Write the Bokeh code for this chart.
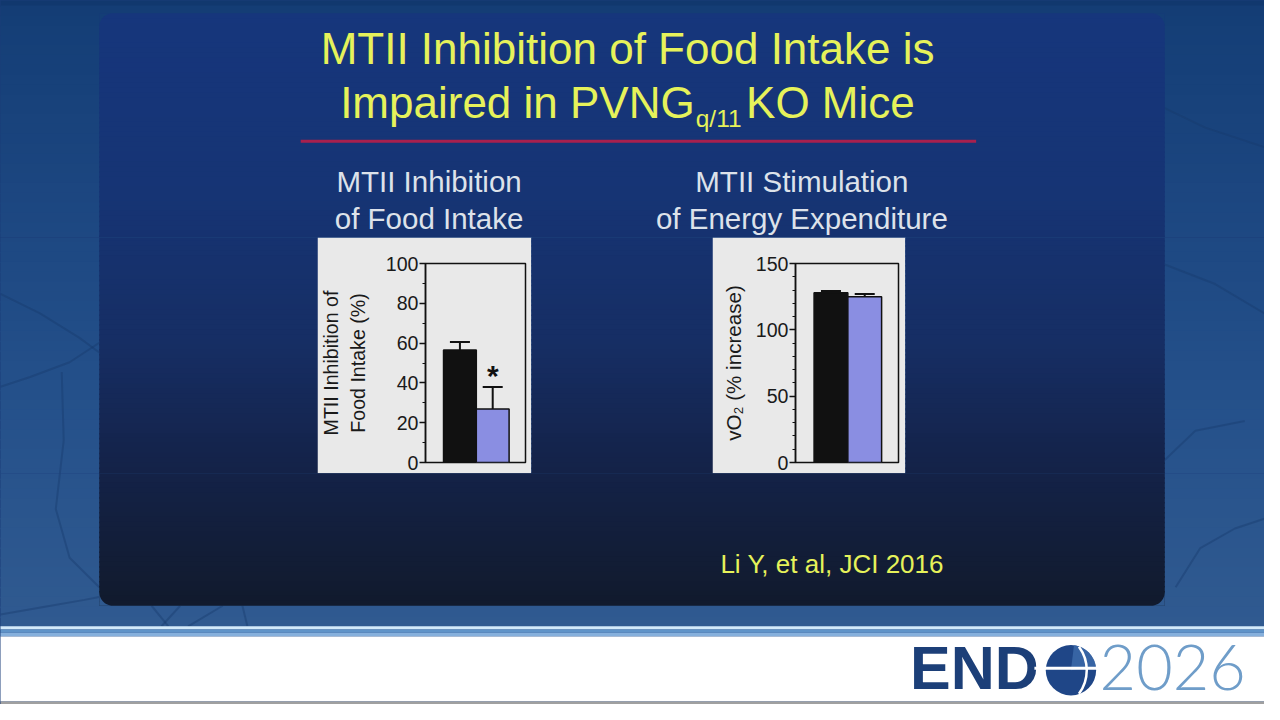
import numpy as np
from bokeh.plotting import figure
from bokeh.layouts import column, row
from bokeh.models import Range1d, ColumnDataSource, Whisker, TeeHead, SingleIntervalTicker
from bokeh.core.properties import value
from bokeh.embed import file_html
from bokeh.resources import INLINE

# ---------------- data ----------------
groups = ["Control", "PVNGq/11KO"]
food_intake_inhibition = [56.5, 26.9]
food_intake_err = [4.0, 11.0]
vo2_increase = [128.0, 125.0]
vo2_err = [1.3, 2.0]
bar_colors = ["#111111", "#8a8ee2"]
significance = ["", "*"]

title_line1 = "MTII Inhibition of Food Intake is"
title_line2_main = "Impaired in PVNG"
title_line2_sub = "q/11"
title_line2_end = "KO Mice"
panel1_title = ["MTII Inhibition", "of Food Intake"]
panel2_title = ["MTII Stimulation", "of Energy Expenditure"]
panel1_ylabel = "MTII Inhibition of\nFood Intake (%)"
panel2_ylabel = "vO\u2082 (% increase)"
citation = "Li Y, et al, JCI 2016"
logo_a = "END"
logo_b = "2026"

# ---------------- styling / layout ----------------
FONT = "Liberation Sans"
YELLOW = "#e6f25a"
SUBTXT = "#dde2ea"
PANEL_GRAY = "#e9e9e9"
SEAM = "#1a3d78"

W, H = 1264, 704                 # page size; the 1280x720 slide is scaled into it
SX, SY = W / 1280.0, H / 720.0
BASE_FIX = 0.4                   # baseline correction (em) for svg text placement

XB = [0, 322, 539, 722, 917, 1280]
YB = [0, 243, 485, 720]
XP = [int(round(v * SX)) for v in XB]
YP = [int(round(v * SY)) for v in YB]

PX0, PX1, PY0, PY1, PR = 100, 1179, 13, 619, 14   # dark rounded content panel

outer_stops = [(0, (17, 56, 110)), (12, (20, 62, 118)), (200, (28, 70, 128)),
               (400, (36, 80, 138)), (640, (48, 90, 144))]
panel_stops = [(13, (22, 54, 124)), (200, (22, 52, 116)), (350, (22, 46, 100)),
               (470, (20, 35, 74)), (619, (17, 26, 44))]


def col_at(stops, y):
    ys = [s[0] for s in stops]
    c = np.array([s[1] for s in stops], dtype=float)
    r, g, b = (np.interp(y, ys, c[:, k]) for k in range(3))
    return "#%02x%02x%02x" % (int(round(r)), int(round(g)), int(round(b)))


def bands(stops, y0, y1, n):
    e = np.linspace(y0, y1, n + 1)
    mids = (e[:-1] + e[1:]) / 2
    return list(e[:-1]), list(e[1:] + 1.6), [col_at(stops, m) for m in mids]


neuron_xs = [[0, 40, 80, 100], [0, 30, 70, 100], [62, 64, 56, 70, 100], [0, 45, 85, 100],
             [153, 170], [182, 163], [190, 225], [245, 250],
             [1179, 1220, 1280], [1179, 1230, 1280], [1190, 1215, 1250, 1280], [1179, 1210, 1260]]
neuron_ys = [[300, 320, 345, 360], [395, 385, 370, 350], [380, 450, 520, 570, 600], [628, 620, 613, 610],
             [619, 640], [619, 640], [640, 619], [619, 640],
             [110, 130, 150], [270, 290, 320], [600, 560, 540, 530], [470, 440, 430]]


def draw_bg(f):
    t, b, c = bands(outer_stops, -5, 640, 64)
    f.quad(left=-5, right=1285, top=t, bottom=b, fill_color=c, line_color=None)
    f.multi_line(xs=neuron_xs, ys=neuron_ys, line_color="#173a6c", line_width=2, line_alpha=0.4)
    t, b, c = bands(panel_stops, PY0, PY1, 120)
    f.quad(left=PX0, right=PX1, top=t, bottom=b[:-1] + [PY1], fill_color=c, line_color=None)
    phi = np.linspace(0, np.pi / 2, 16)
    corners = [(PX0, PY0, PX0 + PR, PY0 + PR, -1, -1), (PX1, PY0, PX1 - PR, PY0 + PR, 1, -1),
               (PX0, PY1, PX0 + PR, PY1 - PR, -1, 1), (PX1, PY1, PX1 - PR, PY1 - PR, 1, 1)]
    cxs, cys, ccs = [], [], []
    for (kx, ky, cx, cy, sx, sy) in corners:
        cxs.append([kx] + list(cx + sx * PR * np.cos(phi)))
        cys.append([ky] + list(cy + sy * PR * np.sin(phi)))
        ccs.append(col_at(outer_stops, ky))
    f.patches(xs=cxs, ys=cys, fill_color=ccs, line_color=None)
    f.quad(left=-5, right=1285, top=640, bottom=643.3, fill_color="#d3eafa", line_color=None)
    f.quad(left=-5, right=1285, top=643.3, bottom=646.5, fill_color="#5f93c8", line_color=None)
    f.quad(left=-5, right=1285, top=646.5, bottom=650.5, fill_color="#86b0dc", line_color=None)
    f.quad(left=-5, right=1285, top=650.5, bottom=717, fill_color="#ffffff", line_color=None)
    f.quad(left=-5, right=1285, top=717, bottom=725, fill_color="#a0a0a0", line_color=None)


def span(bounds, i0, i1):
    # pixel span of a piece; every piece after the first overlaps its neighbour by 1px
    a = bounds[i0] - (1 if i0 > 0 else 0)
    return a, bounds[i1]


def piece(ix0, ix1, iy0, iy1, fill=SEAM):
    px0, px1 = span(XP, ix0, ix1)
    py0, py1 = span(YP, iy0, iy1)
    f = figure(width=px1 - px0, height=py1 - py0,
               x_range=Range1d(px0 / SX, px1 / SX), y_range=Range1d(py1 / SY, py0 / SY),
               toolbar_location=None, output_backend="svg", min_border=0)
    f.frame_align = False
    f.title.visible = False
    f.axis.visible = False
    f.grid.visible = False
    f.outline_line_color = None
    f.background_fill_color = fill
    f.border_fill_color = fill
    if ix0 > 0:
        f.margin = (0, 0, 0, -1)
    draw_bg(f)
    return f


def txt(f, x, y, s, size, color, align="left", bold=False, font=FONT):
    f.text(x=[x], y=[y - BASE_FIX * size / SY], text=[s], text_font=value(font),
           text_font_size="%.1fpx" % size, text_color=color, text_align=align,
           text_baseline="alphabetic", text_font_style="bold" if bold else "normal")


# ---------------- top piece: titles ----------------
top = piece(0, 5, 0, 1)
txt(top, 635, 67, title_line1, 44.0, YELLOW, "center")
txt(top, 703, 122, title_line2_main, 44.0, YELLOW, "right")
txt(top, 704, 131, title_line2_sub, 24.5, YELLOW, "left")
txt(top, 755, 122, title_line2_end, 44.0, YELLOW, "left")
top.segment(x0=[304], y0=[144], x1=[988], y1=[144], line_color="#a8204e", line_width=3)
for cx, lines in [(434, panel1_title), (811.5, panel2_title)]:
    txt(top, cx, 197, lines[0], 29.5, SUBTXT, "center")
    txt(top, cx, 235, lines[1], 29.5, SUBTXT, "center")


# ---------------- chart panels ----------------
def chart(ix, vals, errs, yend, interval, nminor, ylabel, frame_x0, frame_x1, lab_standoff, lab_size, marks=None):
    px0, px1 = span(XP, ix, ix + 1)
    py0, py1 = span(YP, 1, 2)
    lb = int(round(frame_x0 * SX)) - px0
    rb = px1 - int(round(frame_x1 * SX))
    tb = int(round(269 * SY)) - py0
    bb = py1 - int(round(472 * SY))
    p = figure(width=px1 - px0, height=py1 - py0, x_range=Range1d(-0.05, 3.0), y_range=Range1d(0, yend),
               toolbar_location=None, output_backend="svg",
               min_border_left=lb, min_border_right=rb, min_border_top=tb, min_border_bottom=bb)
    p.frame_align = False
    p.margin = (0, 0, 0, -1)
    p.title.visible = False
    p.background_fill_color = PANEL_GRAY
    p.border_fill_color = PANEL_GRAY
    p.outline_line_color = "#111111"
    p.outline_line_width = 1.5
    p.grid.visible = False
    p.xaxis.visible = False
    ax = p.yaxis[0]
    ax.ticker = SingleIntervalTicker(interval=interval, num_minor_ticks=nminor)
    ax.axis_line_color = "#111111"
    ax.axis_line_width = 1.5
    ax.major_tick_line_color = "#111111"
    ax.major_tick_line_width = 1.5
    ax.major_tick_out = 6
    ax.major_tick_in = 0
    ax.minor_tick_line_color = "#111111"
    ax.minor_tick_line_width = 1.2
    ax.minor_tick_out = 3
    ax.minor_tick_in = 0
    ax.major_label_text_font = FONT
    ax.major_label_text_font_size = "19.6px"
    ax.major_label_text_color = "#1a1a1a"
    ax.major_label_standoff = 1
    ax.axis_label = ylabel
    ax.axis_label_text_font = FONT
    ax.axis_label_text_font_size = lab_size
    ax.axis_label_text_font_style = "normal"
    ax.axis_label_text_color = "#1a1a1a"
    ax.axis_label_standoff = lab_standoff
    src = ColumnDataSource(dict(x=[1, 2], top=vals, upper=[v + e for v, e in zip(vals, errs)],
                                color=bar_colors, mark=marks if marks else ["", ""]))
    p.vbar(x="x", top="top", bottom=0, width=1.0, fill_color="color", line_color="#111111",
           line_width=1.5, source=src)
    p.add_layout(Whisker(source=src, base="x", lower="top", upper="upper", dimension="height",
                         line_color="#111111", line_width=2,
                         upper_head=TeeHead(size=20, line_color="#111111", line_width=2),
                         lower_head=None))
    if marks:
        p.text(x="x", y="upper", text="mark", source=src, text_font=value(FONT),
               text_font_size="30px", text_font_style="bold", text_color="#111111",
               text_align="center", text_baseline="alphabetic", y_offset=-12)
    return p


c1 = chart(1, food_intake_inhibition, food_intake_err, 100, 20, 2, panel1_ylabel,
           428, 532, 14, "19.6px", marks=significance)
c2 = chart(3, vo2_increase, vo2_err, 150, 50, 5, panel2_ylabel, 805, 909, 8, "20.6px")

left = piece(0, 1, 1, 2)
mid = piece(2, 3, 1, 2)
right = piece(4, 5, 1, 2)

# ---------------- bottom piece: citation + logo ----------------
bot = piece(0, 5, 2, 3)
bot.margin = (-1, 0, 0, 0)
txt(bot, 729, 587, citation, 26.0, YELLOW, "left")
txt(bot, 921, 708, logo_a, 61.0, "#1c3f78", "left", bold=True)
bot.circle(x=[1084], y=[685], radius=25.5, fill_color="#1f4687", line_color=None)
bot.wedge(x=[1084], y=[685], radius=25.5, start_angle=0.15, end_angle=1.45,
          fill_color="#3d6cab", fill_alpha=0.8, line_color=None)
bot.segment(x0=[1047], y0=[683], x1=[1110], y1=[683], line_color="white", line_width=3)
bot.arc(x=[1060], y=[685], radius=40, start_angle=-0.64, end_angle=0.64,
        line_color="white", line_width=2.5)
txt(bot, 1113, 708, logo_b, 63.0, "#6f9dc9", "left", font="Lato Light, Lato")

mid_row = row(left, c1, mid, c2, right, spacing=0, margin=(-1, 0, 0, 0),
              styles={"background-color": SEAM})
layout = column(top, mid_row, bot, spacing=0, styles={"background-color": SEAM})

open("out.html", "w").write(file_html(layout, INLINE))
